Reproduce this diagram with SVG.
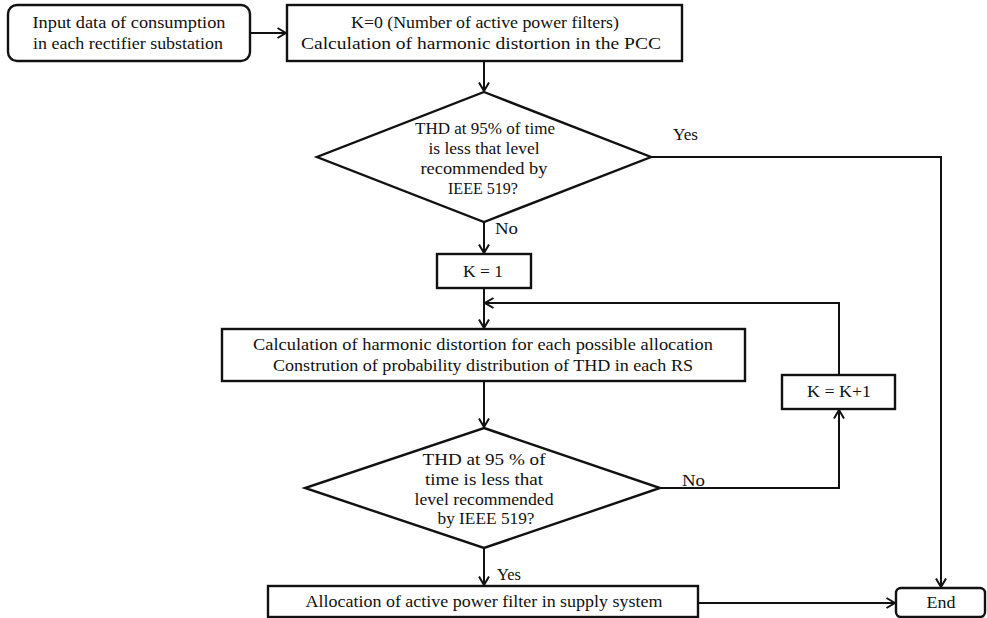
<svg xmlns="http://www.w3.org/2000/svg" width="987" height="618" viewBox="0 0 987 618">
  <defs>
    <style>
      .box { fill: #ffffff; stroke: #111111; stroke-width: 2.4; }
      .con { fill: none; stroke: #111111; stroke-width: 2; }
      .txt { font-family: "Liberation Serif", "Times New Roman", serif; font-size: 17px; fill: #111111; text-anchor: middle; }
      .lbl { font-family: "Liberation Serif", "Times New Roman", serif; font-size: 17px; fill: #111111; }
    </style>
    <marker id="arrow" viewBox="0 0 10 12" refX="9.5" refY="6" markerWidth="10" markerHeight="12" markerUnits="userSpaceOnUse" orient="auto">
      <path d="M1,1 L9.5,6 L1,11" fill="none" stroke="#111111" stroke-width="2"/>
    </marker>
  </defs>

  <rect width="987" height="618" fill="#ffffff"/>

  <!-- connectors -->
  <g id="connectors">
    <path class="con" d="M250,33 H286" marker-end="url(#arrow)"/>
    <path class="con" d="M484,61 V91" marker-end="url(#arrow)"/>
    <path class="con" d="M651,157 H941 V587" marker-end="url(#arrow)"/>
    <path class="con" d="M484,222 V253" marker-end="url(#arrow)"/>
    <path class="con" d="M484,288 V328" marker-end="url(#arrow)"/>
    <path class="con" d="M839,375 V303 H485" marker-end="url(#arrow)"/>
    <path class="con" d="M484,381 V427" marker-end="url(#arrow)"/>
    <path class="con" d="M660,488 H839 V410" marker-end="url(#arrow)"/>
    <path class="con" d="M484,548 V585" marker-end="url(#arrow)"/>
    <path class="con" d="M698,603 H895" marker-end="url(#arrow)"/>
    <text class="lbl" x="673" y="140" textLength="25" lengthAdjust="spacingAndGlyphs">Yes</text>
    <text class="lbl" x="495" y="234" textLength="23" lengthAdjust="spacingAndGlyphs">No</text>
    <text class="lbl" x="682" y="486" textLength="23" lengthAdjust="spacingAndGlyphs">No</text>
    <text class="lbl" x="497" y="580" textLength="24" lengthAdjust="spacingAndGlyphs">Yes</text>
  </g>

  <g id="input">
    <rect class="box" x="8" y="5" width="242" height="56" rx="9" ry="9"/>
    <text class="txt" x="129" y="28" textLength="193" lengthAdjust="spacingAndGlyphs">Input data of consumption</text>
    <text class="txt" x="128" y="49" textLength="190" lengthAdjust="spacingAndGlyphs">in each rectifier substation</text>
  </g>

  <g id="init">
    <rect class="box" x="287" y="5" width="395" height="56"/>
    <text class="txt" x="485" y="28" textLength="268" lengthAdjust="spacingAndGlyphs">K=0 (Number of active power filters)</text>
    <text class="txt" x="481" y="49" textLength="360" lengthAdjust="spacingAndGlyphs">Calculation of harmonic distortion in the PCC</text>
  </g>

  <g id="check1">
    <polygon class="box" points="484,92 651,157 484,222 317,157"/>
    <text class="txt" x="485" y="134" textLength="140" lengthAdjust="spacingAndGlyphs">THD at 95% of time</text>
    <text class="txt" x="484" y="154" textLength="111" lengthAdjust="spacingAndGlyphs">is less that level</text>
    <text class="txt" x="484" y="174" textLength="127" lengthAdjust="spacingAndGlyphs">recommended by</text>
    <text class="txt" x="483" y="194" textLength="70" lengthAdjust="spacingAndGlyphs">IEEE 519?</text>
  </g>

  <g id="k1">
    <rect class="box" x="437" y="254" width="94" height="34"/>
    <text class="txt" x="483" y="277" textLength="40" lengthAdjust="spacingAndGlyphs">K = 1</text>
  </g>

  <g id="calc">
    <rect class="box" x="222" y="329" width="523" height="52"/>
    <text class="txt" x="483" y="350" textLength="460" lengthAdjust="spacingAndGlyphs">Calculation of harmonic  distortion for each  possible allocation</text>
    <text class="txt" x="483" y="371" textLength="420" lengthAdjust="spacingAndGlyphs">Constrution of probability distribution of THD in each RS</text>
  </g>

  <g id="increment">
    <rect class="box" x="782" y="375" width="113" height="34"/>
    <text class="txt" x="839" y="397" textLength="64" lengthAdjust="spacingAndGlyphs">K = K+1</text>
  </g>

  <g id="check2">
    <polygon class="box" points="484,428 660,488 484,548 305,488"/>
    <text class="txt" x="484" y="465" textLength="123" lengthAdjust="spacingAndGlyphs">THD at 95 % of</text>
    <text class="txt" x="484" y="485" textLength="118" lengthAdjust="spacingAndGlyphs">time is less that</text>
    <text class="txt" x="484" y="505" textLength="139" lengthAdjust="spacingAndGlyphs">level recommended</text>
    <text class="txt" x="486" y="524" textLength="97" lengthAdjust="spacingAndGlyphs">by IEEE 519?</text>
  </g>

  <g id="allocation">
    <rect class="box" x="268" y="586" width="430" height="31"/>
    <text class="txt" x="484" y="607" textLength="357" lengthAdjust="spacingAndGlyphs">Allocation of active power filter in supply system</text>
  </g>

  <g id="end">
    <rect class="box" x="896" y="588" width="89" height="29" rx="5" ry="5"/>
    <text class="txt" x="941" y="608" textLength="29" lengthAdjust="spacingAndGlyphs">End</text>
  </g>
</svg>
